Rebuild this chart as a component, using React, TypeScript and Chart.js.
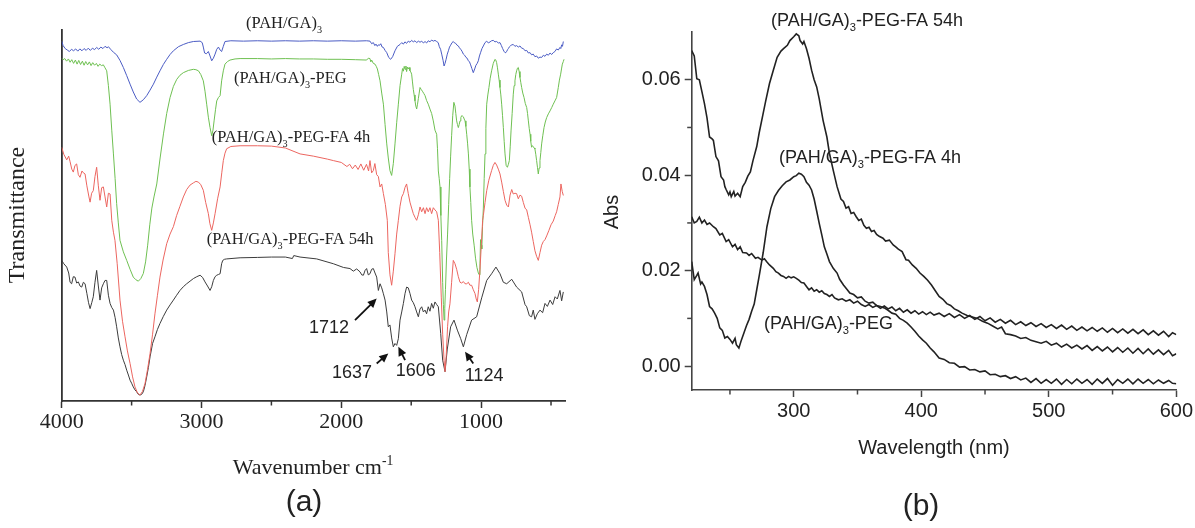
import React, { useEffect, useRef } from 'react';
import { Chart, registerables } from 'chart.js';
Chart.register(...registerables);

type P = [number, number];

// ---------- Panel (a): FTIR ----------
const ftirTicks = [1000, 2000, 3000, 4000];
const ftirMinorTicks = [500, 1500, 2500, 3500];

const ftirPAH: P[] = [
  [4000,97.0],[3990,95.8],[3975,95.0],[3960,94.6],[3945,94.2],[3930,94.8],[3915,94.4],[3900,94.9],[3885,94.3],[3870,94.9],[3855,94.4],[3840,95.0],[3825,94.5],[3810,95.1],[3795,94.5],[3780,95.1],[3765,94.7],[3750,95.3],[3735,94.8],[3720,95.4],[3705,95.0],[3690,95.6],[3675,95.2],[3666,95.5],[3650,94.8],[3630,94.0],[3607,93.3],[3583,91.8],[3559,89.9],[3535,87.7],[3511,85.4],[3488,83.3],[3464,81.4],[3440,80.5],[3416,81.2],[3392,82.3],[3368,83.8],[3344,85.4],[3320,87.3],[3297,89.0],[3273,90.7],[3249,92.1],[3225,93.4],[3201,94.4],[3165,95.5],[3130,96.1],[3094,96.6],[3058,96.9],[3010,97.0],[2995,96.6],[2987,95.4],[2978,93.8],[2965,93.6],[2951,94.2],[2939,93.0],[2927,91.7],[2915,92.4],[2903,93.5],[2891,94.8],[2879,95.4],[2867,94.6],[2856,94.2],[2844,95.6],[2832,96.9],[2790,97.1],[2700,97.0],[2600,97.1],[2500,97.0],[2400,97.1],[2300,97.0],[2200,97.1],[2100,97.0],[2000,97.1],[1900,97.0],[1820,97.1],[1795,97.0],[1783,96.3],[1771,96.6],[1760,95.8],[1752,96.2],[1742,95.6],[1735,96.0],[1725,95.9],[1718,96.3],[1708,95.4],[1699,95.3],[1687,94.5],[1675,93.9],[1661,92.6],[1647,92.1],[1633,92.8],[1616,94.4],[1599,95.6],[1580,96.1],[1568,96.6],[1556,96.2],[1545,96.8],[1533,96.4],[1521,97.0],[1509,96.7],[1497,97.2],[1485,96.8],[1473,97.1],[1461,96.6],[1449,97.0],[1437,96.7],[1425,97.0],[1413,96.5],[1401,96.9],[1390,96.5],[1378,97.1],[1366,96.8],[1354,97.3],[1342,97.0],[1330,97.2],[1318,96.9],[1307,96.6],[1299,95.5],[1290,94.8],[1282,93.5],[1272,91.8],[1265,90.3],[1258,91.0],[1251,92.0],[1242,93.5],[1234,94.4],[1226,95.4],[1218,95.9],[1208,96.6],[1199,96.9],[1190,96.5],[1182,96.4],[1172,95.9],[1163,95.7],[1155,95.2],[1146,94.8],[1137,94.3],[1127,93.5],[1118,93.2],[1108,92.6],[1100,92.4],[1091,91.7],[1083,91.4],[1075,90.6],[1066,89.6],[1056,88.5],[1046,89.5],[1037,90.5],[1028,91.0],[1020,91.7],[1012,93.0],[1003,94.0],[994,95.0],[984,95.7],[972,96.6],[960,97.0],[948,96.5],[936,96.8],[925,97.1],[913,97.2],[901,96.8],[889,96.9],[877,96.5],[865,96.6],[855,95.8],[846,95.0],[837,94.3],[829,93.9],[823,94.0],[817,94.2],[811,94.7],[805,95.0],[797,95.5],[789,95.8],[780,96.0],[770,96.1],[758,95.6],[746,95.8],[734,95.4],[722,95.7],[710,95.1],[698,95.0],[686,94.4],[674,94.5],[662,93.8],[650,93.9],[639,93.3],[627,93.5],[615,92.8],[603,93.0],[591,92.4],[579,92.7],[567,92.6],[555,93.2],[543,92.9],[531,93.5],[519,93.2],[507,93.8],[495,93.4],[484,93.9],[472,94.2],[460,94.9],[448,94.6],[436,95.3],[430,95.0],[424,96.0],[418,95.6],[412,96.9]
];

const ftirPEG: P[] = [
  [4000,92.4],[3990,92.0],[3978,92.3],[3965,91.6],[3952,92.2],[3940,91.3],[3928,92.0],[3915,91.0],[3902,91.9],[3890,90.8],[3878,91.8],[3865,90.7],[3852,91.6],[3840,90.5],[3828,91.5],[3815,90.6],[3802,91.4],[3790,90.4],[3778,91.2],[3765,90.5],[3752,91.0],[3740,90.2],[3728,90.8],[3715,90.4],[3702,90.6],[3690,89.8],[3678,89.0],[3666,85.0],[3654,80.0],[3642,73.0],[3630,66.6],[3618,60.0],[3607,53.2],[3595,48.0],[3583,43.3],[3559,40.2],[3535,37.9],[3511,35.5],[3488,33.4],[3470,32.7],[3452,32.3],[3434,33.0],[3416,34.4],[3400,37.5],[3385,42.0],[3370,47.5],[3355,52.0],[3340,55.0],[3320,58.5],[3296,65.5],[3272,72.0],[3249,77.5],[3225,81.8],[3201,84.8],[3177,86.7],[3154,87.8],[3130,88.5],[3094,89.1],[3058,89.4],[3040,89.3],[3022,89.0],[3005,88.0],[2987,86.3],[2975,83.5],[2963,80.0],[2951,76.5],[2939,73.7],[2927,71.5],[2918,73.0],[2910,75.5],[2900,78.5],[2891,80.9],[2879,81.8],[2867,82.3],[2856,86.3],[2844,89.0],[2832,90.8],[2814,91.5],[2796,91.9],[2760,92.2],[2724,92.3],[2600,92.3],[2500,92.2],[2400,92.3],[2300,92.2],[2200,92.2],[2100,92.1],[2000,92.1],[1900,92.0],[1819,91.9],[1807,92.4],[1795,92.3],[1789,91.4],[1783,91.9],[1771,91.0],[1759,90.8],[1750,90.2],[1742,89.5],[1733,88.0],[1723,86.3],[1711,83.0],[1699,80.0],[1687,74.5],[1675,69.3],[1664,65.5],[1652,62.1],[1640,60.8],[1628,64.0],[1616,69.3],[1604,75.0],[1592,80.0],[1580,85.0],[1568,88.1],[1562,89.6],[1556,88.9],[1550,90.2],[1544,89.4],[1538,90.3],[1533,88.8],[1527,90.0],[1521,89.5],[1515,89.9],[1509,89.0],[1503,88.7],[1497,88.1],[1491,86.0],[1485,84.0],[1479,82.5],[1473,80.9],[1467,79.5],[1461,78.7],[1455,80.0],[1449,81.5],[1443,83.0],[1437,84.5],[1429,84.0],[1420,83.5],[1410,82.9],[1401,82.3],[1390,81.0],[1378,80.0],[1366,78.7],[1354,77.5],[1342,75.5],[1330,73.0],[1318,71.9],[1312,68.0],[1306,62.0],[1300,60.0],[1294,57.7],[1288,50.0],[1282,43.3],[1275,32.0],[1270,26.0],[1265,21.8],[1260,25.0],[1255,30.0],[1248,38.0],[1240,45.0],[1232,53.0],[1225,60.0],[1218,66.0],[1211,71.5],[1203,77.0],[1195,80.5],[1187,79.5],[1181,77.5],[1175,75.5],[1169,74.5],[1163,73.7],[1157,74.5],[1151,75.5],[1145,76.4],[1139,76.9],[1133,76.8],[1127,76.6],[1121,76.0],[1115,75.5],[1109,74.0],[1103,71.9],[1097,69.5],[1091,66.6],[1085,62.5],[1080,57.7],[1074,53.5],[1068,48.7],[1060,45.0],[1050,42.0],[1040,38.5],[1030,36.0],[1020,34.5],[1013,34.0],[1008,37.0],[1004,43.5],[1000,42.0],[995,41.0],[990,47.0],[984,52.0],[978,60.0],[972,66.6],[966,73.5],[960,80.0],[952,82.5],[944,84.5],[935,87.0],[925,89.0],[913,91.0],[901,92.1],[895,91.9],[889,91.2],[883,89.8],[877,88.1],[871,86.5],[865,84.5],[859,82.5],[853,80.0],[847,77.0],[841,73.7],[835,70.0],[829,66.6],[821,63.5],[812,63.0],[805,63.8],[798,64.8],[792,68.5],[786,72.8],[778,77.5],[770,82.7],[764,85.0],[758,86.3],[752,88.0],[746,89.0],[740,89.7],[734,89.9],[728,88.8],[722,87.2],[716,85.8],[710,84.5],[702,83.0],[693,81.8],[684,80.2],[674,79.1],[668,77.5],[662,75.5],[656,73.5],[650,71.9],[645,70.0],[639,68.4],[633,68.8],[627,68.6],[621,68.2],[615,67.9],[609,66.5],[603,64.8],[597,63.0],[591,61.2],[585,62.8],[579,64.8],[573,67.0],[567,69.3],[559,71.5],[550,73.7],[541,75.2],[531,76.4],[519,77.4],[507,78.2],[495,79.1],[484,80.0],[472,80.9],[460,81.8],[448,84.5],[440,86.5],[431,88.1],[425,89.5],[419,90.8],[412,91.5],[407,92.1]
];

const ftirFA4h: P[] = [
  [4000,68.4],[3985,66.5],[3964,65.0],[3950,66.0],[3940,64.5],[3928,62.5],[3917,61.7],[3905,63.5],[3893,63.9],[3881,61.0],[3869,60.3],[3855,62.0],[3845,61.5],[3833,61.2],[3820,58.0],[3805,55.0],[3797,53.6],[3786,56.0],[3774,56.7],[3762,60.5],[3750,63.0],[3738,58.0],[3726,54.1],[3714,57.5],[3702,57.7],[3690,55.0],[3678,52.3],[3666,56.0],[3654,55.8],[3642,48.7],[3630,45.5],[3619,43.3],[3603,37.0],[3583,27.2],[3565,21.5],[3547,17.3],[3530,13.5],[3511,10.1],[3493,6.5],[3476,3.8],[3458,2.2],[3440,1.6],[3422,2.6],[3404,4.7],[3386,8.5],[3368,12.8],[3350,18.0],[3333,23.5],[3315,28.5],[3297,33.4],[3275,38.0],[3249,42.4],[3225,45.0],[3201,47.0],[3178,50.0],[3154,52.5],[3130,55.0],[3106,57.0],[3082,58.2],[3058,58.8],[3040,59.2],[3022,59.0],[3005,58.3],[2987,56.8],[2970,53.5],[2951,50.5],[2940,47.8],[2927,46.0],[2915,48.0],[2903,50.5],[2885,54.5],[2867,57.7],[2855,61.5],[2844,64.8],[2832,66.8],[2820,68.0],[2790,68.6],[2724,68.8],[2600,68.8],[2500,68.7],[2400,68.2],[2295,66.6],[2200,66.0],[2100,65.2],[2057,64.8],[2000,64.3],[1960,63.2],[1940,63.8],[1920,62.6],[1900,63.6],[1880,62.4],[1860,63.9],[1840,62.2],[1820,63.8],[1805,62.0],[1795,64.8],[1783,61.5],[1771,62.1],[1760,64.0],[1747,61.0],[1735,60.5],[1723,57.7],[1711,58.5],[1699,55.9],[1685,53.0],[1671,48.7],[1664,40.0],[1652,34.0],[1640,31.2],[1628,35.0],[1616,39.7],[1604,45.0],[1592,48.7],[1580,52.5],[1568,55.0],[1556,55.9],[1544,57.6],[1533,58.5],[1521,55.9],[1509,53.6],[1497,52.0],[1485,50.5],[1473,49.5],[1461,48.7],[1449,50.2],[1437,52.3],[1425,51.0],[1413,52.1],[1401,50.5],[1390,52.1],[1378,51.0],[1366,52.1],[1354,50.5],[1342,52.1],[1330,51.5],[1318,51.0],[1306,48.7],[1296,40.0],[1285,28.0],[1275,18.0],[1265,11.0],[1258,7.9],[1250,12.0],[1240,20.0],[1232,24.0],[1223,26.2],[1211,32.0],[1199,37.9],[1187,37.0],[1175,35.5],[1163,33.5],[1151,32.0],[1139,31.8],[1127,32.2],[1115,31.6],[1103,31.6],[1091,32.0],[1080,31.2],[1068,31.2],[1056,30.0],[1044,29.0],[1035,27.5],[1027,26.7],[1018,30.0],[1008,35.5],[998,42.5],[989,48.7],[984,50.0],[972,53.5],[960,56.7],[945,59.5],[925,62.1],[913,63.5],[901,64.3],[889,63.6],[877,62.5],[865,61.2],[853,59.0],[841,56.5],[829,54.1],[817,52.8],[805,52.3],[793,55.5],[781,57.0],[770,55.8],[758,56.0],[746,55.9],[734,54.5],[722,55.5],[710,55.2],[698,53.5],[686,52.0],[674,51.5],[662,49.5],[650,47.5],[639,45.5],[627,43.0],[615,40.5],[603,39.0],[591,37.9],[579,40.0],[567,42.0],[555,43.0],[543,43.5],[531,44.5],[515,46.0],[500,47.5],[484,48.5],[470,50.0],[460,51.0],[448,53.0],[436,55.0],[429,58.5],[420,56.5],[412,55.4]
];

const ftirFA54h: P[] = [
  [4000,37.9],[3985,37.0],[3964,36.1],[3950,34.5],[3940,32.0],[3929,31.6],[3917,33.5],[3905,33.4],[3893,31.8],[3881,32.1],[3869,31.0],[3857,30.7],[3845,32.0],[3833,31.6],[3820,29.0],[3808,26.5],[3797,24.9],[3785,26.5],[3774,28.1],[3762,32.0],[3750,35.2],[3738,31.0],[3726,27.2],[3714,30.5],[3702,31.6],[3690,32.5],[3678,32.5],[3666,28.5],[3654,26.3],[3642,25.2],[3630,24.5],[3618,22.5],[3607,20.0],[3595,17.0],[3583,14.6],[3571,12.5],[3559,11.0],[3547,9.8],[3535,8.3],[3523,7.0],[3511,5.6],[3500,4.8],[3488,3.8],[3476,3.0],[3464,2.5],[3452,1.8],[3440,1.6],[3428,1.8],[3416,2.5],[3404,4.2],[3392,6.5],[3380,9.0],[3368,11.9],[3350,15.5],[3333,17.3],[3315,19.3],[3297,20.9],[3273,22.8],[3249,24.5],[3225,25.9],[3201,27.2],[3178,28.5],[3154,29.8],[3130,30.8],[3106,31.6],[3082,32.3],[3058,33.0],[3034,33.5],[3010,33.9],[2992,33.3],[2975,32.1],[2957,31.0],[2939,29.8],[2927,30.8],[2915,32.5],[2903,33.5],[2891,33.9],[2879,34.1],[2867,34.3],[2856,37.0],[2848,37.9],[2835,38.2],[2820,38.3],[2724,38.6],[2600,38.7],[2500,38.8],[2400,38.8],[2350,38.4],[2340,39.2],[2295,38.8],[2176,38.3],[2057,37.0],[1985,36.0],[1938,35.7],[1914,35.0],[1890,35.6],[1866,34.8],[1854,34.0],[1842,33.9],[1830,35.2],[1819,35.7],[1807,34.0],[1795,34.3],[1783,35.5],[1771,35.7],[1759,34.5],[1747,33.4],[1735,29.8],[1723,31.6],[1711,30.5],[1699,28.9],[1687,27.2],[1675,24.0],[1664,20.0],[1652,20.5],[1640,17.0],[1628,14.6],[1616,15.5],[1604,15.0],[1592,16.8],[1580,21.8],[1568,24.0],[1556,26.3],[1544,29.0],[1533,30.7],[1521,30.5],[1509,29.0],[1497,27.2],[1485,26.5],[1473,25.4],[1461,24.0],[1449,22.7],[1437,24.8],[1425,25.4],[1413,24.0],[1401,24.5],[1390,23.5],[1378,25.4],[1366,24.2],[1354,26.3],[1342,25.0],[1330,26.7],[1318,26.0],[1306,25.4],[1289,18.2],[1275,11.0],[1258,7.9],[1242,14.0],[1218,20.0],[1194,21.8],[1170,19.1],[1146,16.8],[1127,14.6],[1103,17.9],[1068,21.8],[1032,22.7],[996,27.8],[960,32.5],[925,34.3],[894,36.1],[865,34.3],[841,32.0],[817,31.6],[781,32.8],[746,30.7],[710,29.4],[686,26.0],[674,25.4],[655,23.0],[639,22.7],[627,24.5],[615,22.0],[598,23.5],[579,24.5],[560,23.8],[543,26.3],[526,25.5],[507,27.2],[488,26.0],[471,28.1],[455,27.5],[436,29.8],[424,27.0],[412,29.4]
];

const peakLabels = ['1712', '1637', '1606', '1124'];
const peakArrowTips: P[] = [[1747, 27.6], [1664, 12.8], [1592, 14.6], [1115, 13.3]];
const peakArrowTails: P[] = [[1902, 21.8], [1747, 10.1], [1544, 11.0], [1056, 10.1]];
const peakLabelAt: P[] = [[2088, 19.9], [1923, 7.8], [1467, 8.3], [979, 7.0]];

// ---------- Panel (b): UV-Vis ----------
const uvXTicks = [300, 400, 500, 600];
const uvXMinorTicks = [250, 350, 450, 550];
const uvYTicks = [0, 0.02, 0.04, 0.06];
const uvYMinorTicks = [0.01, 0.03, 0.05];

const uvFA54h: P[] = [
  [220,0.0661],[222,0.0650],[224,0.0602],[226,0.0600],[228,0.0575],[230,0.0550],[232,0.0520],[234,0.0480],[236,0.0476],[237,0.0473],[239,0.0439],[241,0.0430],[243,0.0397],[245,0.0390],[246,0.0376],[247,0.0370],[249,0.0359],[250,0.0365],[251,0.0355],[253,0.0366],[254,0.0356],[256,0.0362],[258,0.0355],[260,0.0376],[262,0.0385],[264,0.0398],[266,0.0407],[268,0.0430],[271,0.0460],[273,0.0490],[276,0.0529],[278,0.0555],[281,0.0592],[284,0.0620],[287,0.0647],[290,0.0660],[292,0.0665],[295,0.0672],[297,0.0682],[300,0.0690],[302,0.0696],[304,0.0692],[305,0.0682],[307,0.0675],[308,0.0680],[310,0.0665],[312,0.0645],[314,0.0620],[316,0.0600],[318,0.0585],[320,0.0560],[323,0.0515],[326,0.0480],[328,0.0446],[331,0.0410],[334,0.0376],[337,0.0350],[339,0.0345],[341,0.0331],[343,0.0334],[345,0.0320],[347,0.0322],[349,0.0313],[351,0.0305],[353,0.0308],[355,0.0295],[357,0.0289],[359,0.0291],[361,0.0282],[363,0.0284],[365,0.0276],[367,0.0272],[370,0.0268],[372,0.0262],[375,0.0264],[378,0.0254],[380,0.0250],[382,0.0245],[385,0.0240],[388,0.0223],[390,0.0222],[393,0.0212],[396,0.0205],[399,0.0195],[402,0.0188],[405,0.0180],[408,0.0170],[411,0.0158],[414,0.0146],[417,0.0140],[420,0.0131],[423,0.0127],[426,0.0120],[429,0.0116],[432,0.0111],[436,0.0106],[440,0.0103],[444,0.0100],[448,0.0094],[452,0.0090],[456,0.0084],[460,0.0078],[463,0.0082],[466,0.0068],[470,0.0066],[474,0.0063],[478,0.0058],[482,0.0060],[486,0.0054],[490,0.0051],[494,0.0048],[498,0.0052],[502,0.0044],[506,0.0048],[510,0.0040],[514,0.0046],[518,0.0038],[522,0.0044],[526,0.0036],[530,0.0043],[534,0.0033],[538,0.0041],[542,0.0032],[546,0.0040],[550,0.0030],[554,0.0039],[558,0.0029],[562,0.0038],[566,0.0027],[570,0.0037],[574,0.0026],[578,0.0036],[582,0.0025],[586,0.0034],[590,0.0024],[594,0.0033],[597,0.0022],[600,0.0026]
];

const uvFA4h: P[] = [
  [220,0.0219],[222,0.0181],[224,0.0190],[225,0.0195],[227,0.0172],[228,0.0176],[230,0.0167],[232,0.0150],[234,0.0125],[236,0.0120],[238,0.0111],[240,0.0100],[242,0.0080],[244,0.0075],[246,0.0059],[248,0.0062],[250,0.0056],[252,0.0048],[254,0.0058],[255,0.0045],[257,0.0038],[259,0.0055],[261,0.0070],[263,0.0085],[265,0.0098],[267,0.0115],[269,0.0130],[271,0.0160],[273,0.0190],[276,0.0237],[279,0.0292],[282,0.0330],[285,0.0355],[288,0.0368],[291,0.0378],[294,0.0386],[297,0.0390],[300,0.0397],[302,0.0399],[304,0.0404],[306,0.0402],[308,0.0397],[310,0.0385],[312,0.0379],[314,0.0369],[316,0.0350],[318,0.0325],[320,0.0299],[322,0.0275],[324,0.0250],[326,0.0235],[328,0.0219],[331,0.0205],[334,0.0195],[336,0.0182],[339,0.0170],[342,0.0160],[344,0.0153],[347,0.0150],[350,0.0143],[353,0.0145],[356,0.0136],[359,0.0132],[362,0.0134],[365,0.0127],[368,0.0125],[371,0.0122],[374,0.0117],[377,0.0111],[380,0.0109],[383,0.0100],[386,0.0096],[389,0.0090],[392,0.0082],[395,0.0073],[398,0.0063],[401,0.0055],[404,0.0048],[407,0.0038],[410,0.0030],[414,0.0017],[418,0.0014],[422,0.0007],[426,0.0006],[430,-0.0002],[434,-0.0001],[438,-0.0008],[442,-0.0007],[446,-0.0012],[450,-0.0010],[454,-0.0018],[458,-0.0017],[462,-0.0022],[466,-0.0020],[470,-0.0026],[474,-0.0022],[478,-0.0029],[482,-0.0025],[486,-0.0034],[490,-0.0026],[494,-0.0036],[498,-0.0028],[502,-0.0036],[506,-0.0027],[510,-0.0038],[514,-0.0028],[518,-0.0037],[522,-0.0027],[526,-0.0036],[530,-0.0028],[534,-0.0038],[538,-0.0027],[542,-0.0036],[546,-0.0026],[550,-0.0040],[554,-0.0028],[558,-0.0036],[562,-0.0027],[566,-0.0037],[570,-0.0027],[574,-0.0036],[578,-0.0028],[582,-0.0037],[586,-0.0029],[590,-0.0036],[594,-0.0030],[597,-0.0036],[600,-0.0037]
];

const uvPEG: P[] = [
  [220,0.0313],[222,0.0300],[224,0.0303],[226,0.0312],[228,0.0300],[230,0.0306],[232,0.0297],[234,0.0300],[237,0.0292],[239,0.0288],[242,0.0275],[244,0.0278],[247,0.0261],[249,0.0265],[252,0.0250],[254,0.0255],[256,0.0244],[258,0.0250],[260,0.0238],[263,0.0237],[265,0.0232],[267,0.0236],[270,0.0226],[272,0.0228],[275,0.0222],[277,0.0225],[279,0.0218],[281,0.0212],[284,0.0205],[286,0.0198],[288,0.0195],[290,0.0190],[292,0.0188],[294,0.0184],[296,0.0188],[298,0.0185],[300,0.0187],[302,0.0184],[304,0.0180],[306,0.0175],[308,0.0174],[310,0.0167],[312,0.0160],[314,0.0164],[316,0.0157],[318,0.0160],[320,0.0155],[322,0.0158],[324,0.0152],[326,0.0150],[328,0.0146],[330,0.0150],[332,0.0143],[335,0.0139],[338,0.0141],[341,0.0136],[344,0.0139],[347,0.0132],[350,0.0136],[353,0.0129],[356,0.0125],[359,0.0129],[362,0.0123],[365,0.0127],[368,0.0121],[371,0.0126],[374,0.0120],[377,0.0124],[380,0.0116],[383,0.0121],[386,0.0113],[389,0.0118],[392,0.0111],[395,0.0116],[398,0.0109],[401,0.0114],[404,0.0108],[407,0.0113],[410,0.0107],[414,0.0111],[418,0.0104],[422,0.0110],[426,0.0102],[430,0.0108],[434,0.0100],[438,0.0106],[442,0.0098],[446,0.0104],[450,0.0095],[454,0.0101],[458,0.0092],[462,0.0098],[466,0.0090],[470,0.0096],[474,0.0087],[478,0.0093],[482,0.0085],[486,0.0091],[490,0.0083],[494,0.0089],[498,0.0081],[502,0.0087],[506,0.0079],[510,0.0086],[514,0.0077],[518,0.0084],[522,0.0075],[526,0.0082],[530,0.0074],[534,0.0081],[538,0.0073],[542,0.0080],[546,0.0071],[550,0.0079],[554,0.0070],[558,0.0078],[562,0.0069],[566,0.0077],[570,0.0068],[574,0.0076],[578,0.0066],[582,0.0074],[586,0.0065],[590,0.0073],[594,0.0062],[597,0.0070],[600,0.0066]
];

// ---------- helpers ----------
const SERIF = '"Liberation Serif", "Times New Roman", serif';
const SANS = '"Liberation Sans", Arial, sans-serif';

type Part = { t: string; sub?: boolean; sup?: boolean };

function drawRich(ctx: CanvasRenderingContext2D, parts: Part[], x: number, cy: number, size: number, family: string, align: 'left' | 'center' = 'left') {
  const small = size * 0.62;
  const widths = parts.map(p => {
    ctx.font = `${p.sub || p.sup ? small : size}px ${family}`;
    return ctx.measureText(p.t).width;
  });
  const total = widths.reduce((a, b) => a + b, 0);
  let cx = align === 'center' ? x - total / 2 : x;
  const base = cy + size * 0.33;
  ctx.textAlign = 'left';
  ctx.textBaseline = 'alphabetic';
  parts.forEach((p, i) => {
    ctx.font = `${p.sub || p.sup ? small : size}px ${family}`;
    const dy = p.sub ? size * 0.28 : p.sup ? -size * 0.42 : 0;
    ctx.fillText(p.t, cx, base + dy);
    cx += widths[i];
  });
}

function drawArrow(ctx: CanvasRenderingContext2D, x1: number, y1: number, x2: number, y2: number) {
  const a = Math.atan2(y2 - y1, x2 - x1);
  const L = 9, W = 4.2;
  ctx.beginPath();
  ctx.moveTo(x1, y1);
  ctx.lineTo(x2 - L * 0.7 * Math.cos(a), y2 - L * 0.7 * Math.sin(a));
  ctx.stroke();
  ctx.beginPath();
  ctx.moveTo(x2, y2);
  ctx.lineTo(x2 - L * Math.cos(a) + W * Math.sin(a), y2 - L * Math.sin(a) - W * Math.cos(a));
  ctx.lineTo(x2 - L * Math.cos(a) - W * Math.sin(a), y2 - L * Math.sin(a) + W * Math.cos(a));
  ctx.closePath();
  ctx.fill();
}

function minorTicks(chart: any, xs: number[], ys: number[], len: number, color: string, width: number) {
  const ctx = chart.ctx as CanvasRenderingContext2D;
  const { left, bottom } = chart.chartArea;
  ctx.save();
  ctx.strokeStyle = color;
  ctx.lineWidth = width;
  xs.forEach(v => {
    const px = chart.scales.x.getPixelForValue(v);
    ctx.beginPath(); ctx.moveTo(px, bottom); ctx.lineTo(px, bottom + len); ctx.stroke();
  });
  ys.forEach(v => {
    const py = chart.scales.y.getPixelForValue(v);
    ctx.beginPath(); ctx.moveTo(left, py); ctx.lineTo(left - len, py); ctx.stroke();
  });
  ctx.restore();
}

const toXY = (arr: P[]) => arr.map(([x, y]) => ({ x, y }));
const line = (arr: P[], color: string, width: number) => ({
  data: toXY(arr), borderColor: color, borderWidth: width, pointRadius: 0, showLine: true, fill: false, tension: 0,
});

const PAH = (rest: string): Part[] => [{ t: '(PAH/GA)' }, { t: '3', sub: true }, { t: rest }];

function configA(): any {
  const overlay = {
    id: 'overlayA',
    afterDraw(chart: any) {
      const ctx = chart.ctx as CanvasRenderingContext2D;
      minorTicks(chart, ftirMinorTicks, [], 4.5, '#333', 1.5);
      ctx.save();
      ctx.fillStyle = '#222';
      drawRich(ctx, PAH(''), 246, 23, 16.5, SERIF);
      drawRich(ctx, PAH('-PEG'), 234, 78, 16.5, SERIF);
      drawRich(ctx, PAH('-PEG-FA 4h'), 211.7, 137, 16.5, SERIF);
      drawRich(ctx, PAH('-PEG-FA 54h'), 206.7, 239, 16.5, SERIF);
      drawRich(ctx, [{ t: 'Wavenumber cm' }, { t: '-1', sup: true }], 313, 467, 22, SERIF, 'center');
      drawRich(ctx, [{ t: '(a)' }], 304, 501, 30, SANS, 'center');
      ctx.save();
      ctx.translate(18, 215);
      ctx.rotate(-Math.PI / 2);
      ctx.font = `24px ${SERIF}`;
      ctx.textAlign = 'center';
      ctx.textBaseline = 'middle';
      ctx.fillText('Transmittance', 0, 0);
      ctx.restore();
      // peak annotations
      const xs = chart.scales.x, ys = chart.scales.y;
      ctx.strokeStyle = '#111';
      ctx.lineWidth = 1.8;
      peakLabels.forEach((lab, i) => {
        ctx.fillStyle = '#111';
        drawArrow(ctx, xs.getPixelForValue(peakArrowTails[i][0]), ys.getPixelForValue(peakArrowTails[i][1]),
          xs.getPixelForValue(peakArrowTips[i][0]), ys.getPixelForValue(peakArrowTips[i][1]));
        ctx.fillStyle = '#222';
        drawRich(ctx, [{ t: lab }], xs.getPixelForValue(peakLabelAt[i][0]), ys.getPixelForValue(peakLabelAt[i][1]), 18, SANS, 'center');
      });
      ctx.restore();
    },
  };
  return {
    type: 'scatter',
    data: {
      datasets: [
        line(ftirPAH, '#4b5cc4', 1),
        line(ftirFA4h, '#ec6660', 1),
        line(ftirPEG, '#6fc052', 1),
        line(ftirFA54h, '#3c3c3c', 1),
      ],
    },
    options: {
      animation: false,
      responsive: false,
      devicePixelRatio: 1,
      layout: { padding: { left: 61.7, top: 30, right: 35, bottom: 87 } },
      plugins: { legend: { display: false }, tooltip: { enabled: false } },
      scales: {
        x: {
          type: 'linear', reverse: true, min: 400, max: 4000,
          afterBuildTicks: (s: any) => { s.ticks = ftirTicks.map(v => ({ value: v })); },
          afterFit: (s: any) => { s.height = 40; },
          ticks: { font: { family: SERIF, size: 22 }, color: '#222', padding: 1, maxRotation: 0, autoSkip: false, callback: (v: any) => String(v) },
          grid: { display: true, drawOnChartArea: false, drawTicks: true, tickLength: 7, tickWidth: 1.5, tickColor: '#333' },
          border: { display: true, color: '#333', width: 1.8 },
        },
        y: {
          type: 'linear', min: 0, max: 100,
          afterFit: (s: any) => { s.width = 0; },
          ticks: { display: false },
          grid: { display: false, drawTicks: false },
          border: { display: true, color: '#333', width: 1.8 },
        },
      },
    },
    plugins: [overlay],
  };
}

function configB(): any {
  const overlay = {
    id: 'overlayB',
    afterDraw(chart: any) {
      const ctx = chart.ctx as CanvasRenderingContext2D;
      minorTicks(chart, uvXMinorTicks, uvYMinorTicks, 4.5, '#444', 1.5);
      ctx.save();
      ctx.fillStyle = '#222';
      drawRich(ctx, PAH('-PEG-FA 54h'), 171, 20, 18, SANS);
      drawRich(ctx, PAH('-PEG-FA 4h'), 179, 157, 18, SANS);
      drawRich(ctx, PAH('-PEG'), 164, 323, 18, SANS);
      drawRich(ctx, [{ t: 'Wavelength (nm)' }], 334, 447, 20, SANS, 'center');
      drawRich(ctx, [{ t: '(b)' }], 321, 505, 30, SANS, 'center');
      ctx.save();
      ctx.translate(12, 212);
      ctx.rotate(-Math.PI / 2);
      ctx.font = `20px ${SANS}`;
      ctx.textAlign = 'center';
      ctx.textBaseline = 'middle';
      ctx.fillText('Abs', 0, 0);
      ctx.restore();
      ctx.restore();
    },
  };
  return {
    type: 'scatter',
    data: {
      datasets: [
        line(uvFA54h, '#222', 1.6),
        line(uvFA4h, '#222', 1.6),
        line(uvPEG, '#222', 1.6),
      ],
    },
    options: {
      animation: false,
      responsive: false,
      devicePixelRatio: 1,
      layout: { padding: { left: 11.7, top: 32, right: 18.3, bottom: 98 } },
      plugins: { legend: { display: false }, tooltip: { enabled: false } },
      scales: {
        x: {
          type: 'linear', min: 220, max: 600,
          afterBuildTicks: (s: any) => { s.ticks = uvXTicks.map(v => ({ value: v })); },
          afterFit: (s: any) => { s.height = 40; },
          ticks: { font: { family: SANS, size: 20 }, color: '#222', padding: 2, maxRotation: 0, autoSkip: false, callback: (v: any) => String(v) },
          grid: { display: true, drawOnChartArea: false, drawTicks: true, tickLength: 7, tickWidth: 1.5, tickColor: '#444' },
          border: { display: true, color: '#444', width: 1.6 },
        },
        y: {
          type: 'linear', min: -0.005, max: 0.07,
          afterBuildTicks: (s: any) => { s.ticks = uvYTicks.map(v => ({ value: v })); },
          afterFit: (s: any) => { s.width = 80; },
          ticks: { font: { family: SANS, size: 20 }, color: '#222', padding: 4, autoSkip: false, callback: (v: any) => Number(v).toFixed(2) },
          grid: { display: true, drawOnChartArea: false, drawTicks: true, tickLength: 7, tickWidth: 1.5, tickColor: '#444' },
          border: { display: true, color: '#444', width: 1.6 },
        },
      },
    },
    plugins: [overlay],
  };
}

export default function App() {
  const refA = useRef<HTMLCanvasElement>(null);
  const refB = useRef<HTMLCanvasElement>(null);
  useEffect(() => {
    const a = new Chart(refA.current as HTMLCanvasElement, configA());
    const b = new Chart(refB.current as HTMLCanvasElement, configB());
    return () => { a.destroy(); b.destroy(); };
  }, []);
  return (
    <div style={{ position: 'absolute', left: 0, top: 0, width: 1195, height: 528, background: '#fff', overflow: 'hidden' }}>
      <canvas ref={refA} width={600} height={528} style={{ position: 'absolute', left: 0, top: 0, width: 600, height: 528 }} />
      <canvas ref={refB} width={595} height={528} style={{ position: 'absolute', left: 600, top: 0, width: 595, height: 528 }} />
    </div>
  );
}
